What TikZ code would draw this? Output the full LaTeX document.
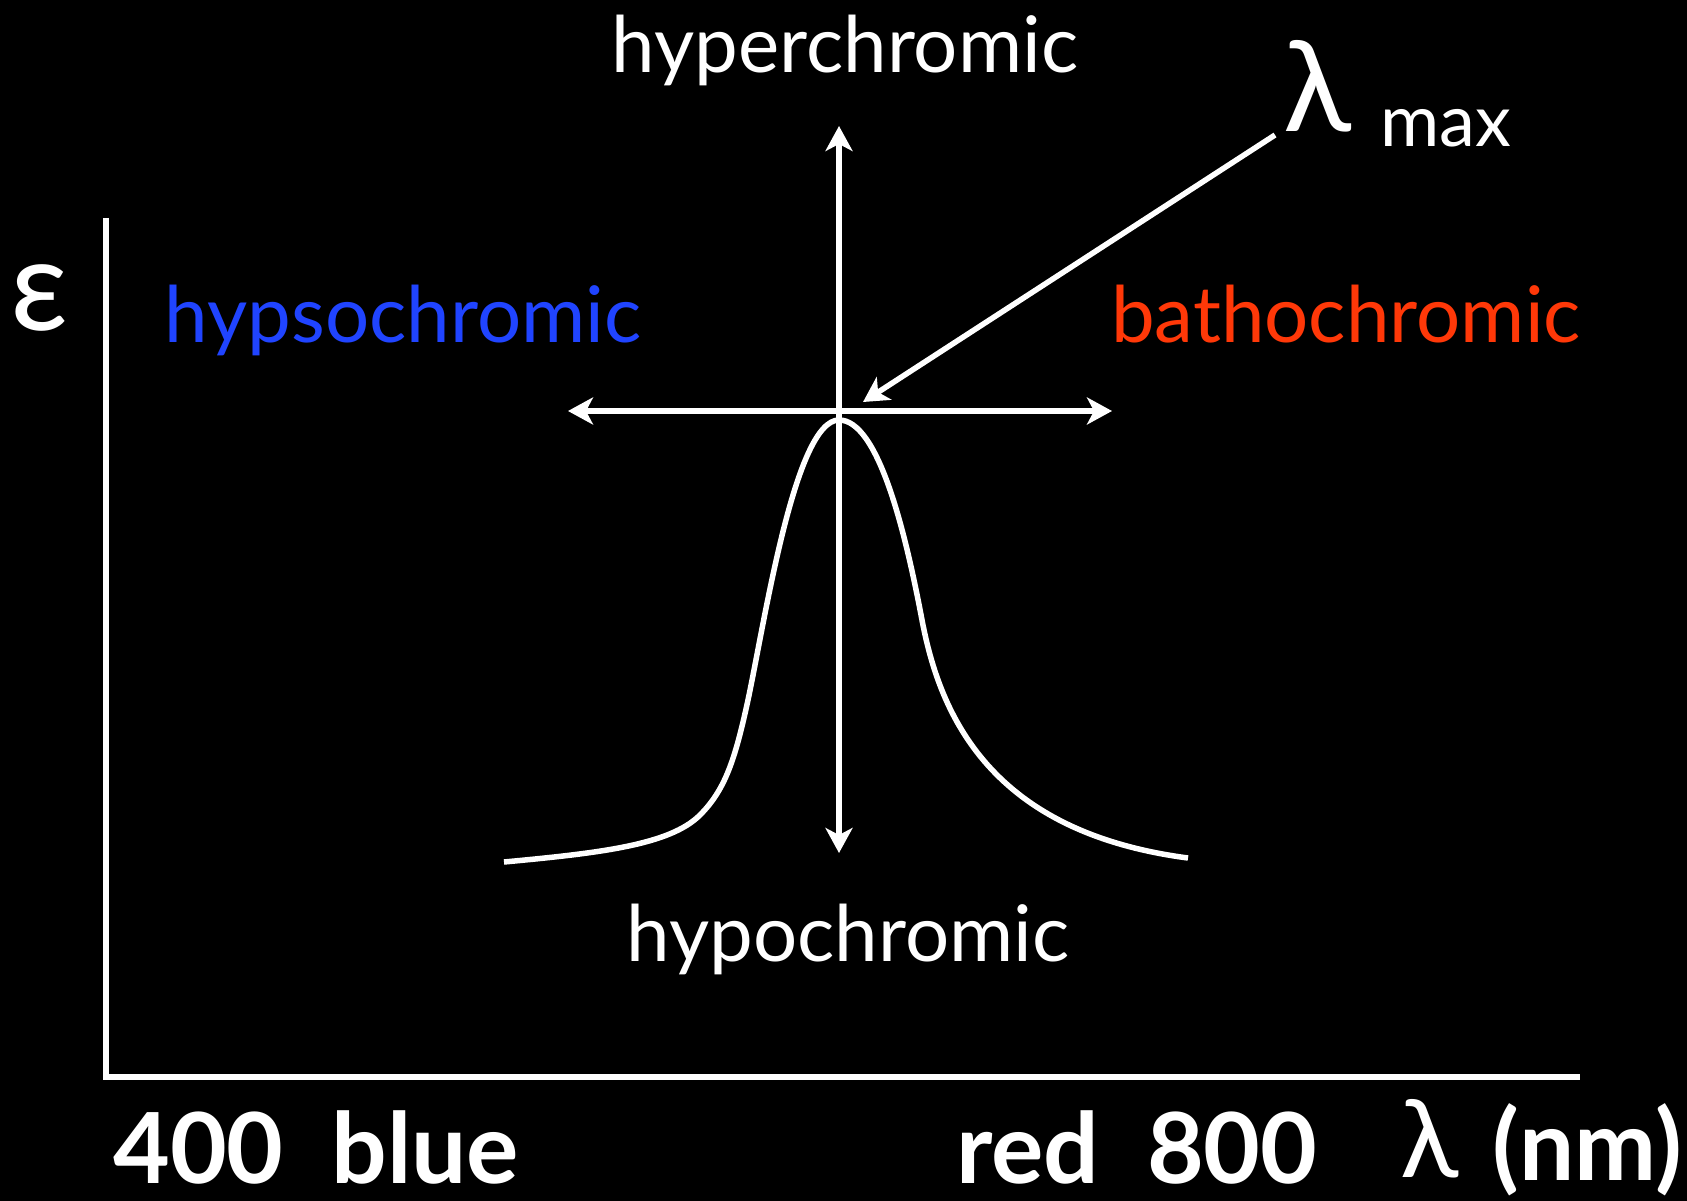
\documentclass[tikz,border=0pt]{standalone}
\usepackage{fontspec}
\setmainfont{Lato}
\usetikzlibrary{arrows.meta}
\definecolor{hypblue}{RGB}{32,68,255}
\definecolor{batred}{RGB}{255,56,8}
\tikzset{
  ln/.style={draw=white, line width=5.5pt},
  arr/.style={ln, -{Stealth[length=25pt,width=27pt,inset=7pt]}},
  darr/.style={ln, {Stealth[length=25pt,width=27pt,inset=7pt]}-{Stealth[length=25pt,width=27pt,inset=7pt]}},
  lab/.style={text=white, inner sep=0pt, anchor=base, font=\fontsize{78}{84}\selectfont},
  big/.style={text=white, inner sep=0pt, anchor=base, font=\fontsize{98}{110}\selectfont\bfseries},
}
\begin{document}
\begin{tikzpicture}[x=1pt,y=-1pt]
\useasboundingbox[fill=black] (0,0) rectangle (1687,1201);
% axes
\coordinate (ytop) at (106,218);
\coordinate (orig) at (106,1077);
\coordinate (xend) at (1580,1077);
\draw[ln, line cap=butt, line join=miter] (ytop) -- (orig) -- (xend);
% curve
\coordinate (cl) at (504,862);
\coordinate (peak) at (839,420);
\coordinate (cr) at (1188,858);
\draw[ln] (cl) .. controls (600,853) and (670,845) .. (700,815)
  .. controls (725,790) and (735,760) .. (748,700)
  .. controls (765,620) and (795,420) .. (peak)
  .. controls (878,420) and (905,530) .. (922,620)
  .. controls (940,715) and (990,832) .. (cr);
% arrows
\coordinate (vtop) at (839,126);
\coordinate (vbot) at (839,853);
\coordinate (hl) at (568,411);
\coordinate (hr) at (1112,411);
\draw[darr] (vbot) -- (vtop);
\draw[darr] (hl) -- (hr);
% labels
\node[lab] (hyper) at (845,73) {hyperchromic};
\node[lab] (hypo) at (848,961) {hypochromic};
\node[lab, text=hypblue] (hypso) at (403,342) {hypsochromic};
\node[lab, text=batred] (batho) at (1346,342) {bathochromic};
\node[text=white, inner sep=0pt, anchor=base, font=\fontsize{128}{130}\selectfont] (eps) at (40,330) {ε};
\node[text=white, inner sep=0pt, anchor=base west, font=\fontsize{126}{130}\selectfont] (lam) at (1283,132) {λ};
\node[text=white, inner sep=0pt, anchor=base west, font=\fontsize{72}{76}\selectfont] (max) at (1380,147) {max};
\coordinate (lamstart) at (1275,135);
\coordinate (lamtip) at (863,402);
\draw[arr] (lamstart) -- (lamtip);
\node[big, anchor=base west] (blue) at (113,1183) {400\ \ blue};
\node[big] (red) at (1137,1183) {red\ \ 800};
\node[text=white, inner sep=0pt, anchor=base, font=\fontsize{108}{110}\selectfont] (lamx) at (1430,1177) {λ};
\node[big, anchor=base east] (nm) at (1682,1180) {(nm)};
\end{tikzpicture}
\end{document}
